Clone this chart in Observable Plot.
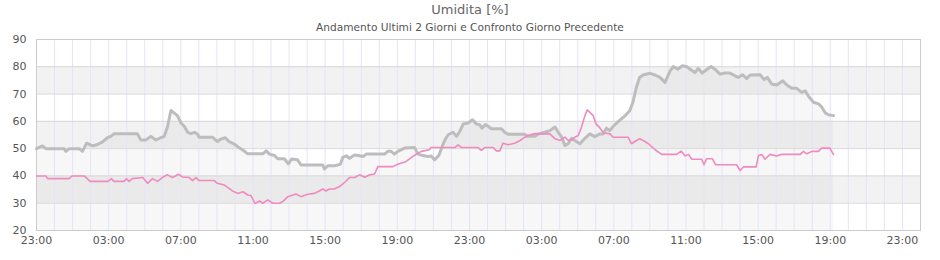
<!DOCTYPE html>
<html>
<head>
<meta charset="utf-8">
<script src="https://cdn.jsdelivr.net/npm/d3@7"></script>
<script src="https://cdn.jsdelivr.net/npm/@observablehq/plot@0.6"></script>
<style>
  body { margin: 0; background: #fff; font-family: "DejaVu Sans", sans-serif; }
  #wrap { width: 940px; height: 260px; position: relative; }
  #title { position: absolute; top: 2px; left: 0; width: 940px; text-align: center; font-size: 13px; color: #666; line-height: 16px; }
  #subtitle { position: absolute; top: 20px; left: 0; width: 940px; text-align: center; font-size: 10.6px; color: #555; line-height: 14px; }
  #chart { position: absolute; top: 34px; left: 0; }
</style>
</head>
<body>
<div id="wrap">
  <div id="title">Umidita [%]</div>
  <div id="subtitle">Andamento Ultimi 2 Giorni e Confronto Giorno Precedente</div>
  <div id="chart"></div>
</div>
<script>
// Hours elapsed since the first 23:00 on the axis
const grayHours = [0,0.33,0.52,1.53,1.63,1.81,2.37,2.55,2.78,3.1,3.38,3.66,3.93,4.12,4.3,5.59,5.79,6.07,6.34,6.62,6.9,7.08,7.26,7.45,7.64,7.82,8.01,8.19,8.38,8.56,8.75,8.93,9.01,9.75,10.03,10.22,10.46,10.68,10.96,11.26,11.42,11.71,12.54,12.73,12.91,13.19,13.37,13.74,13.96,14.14,14.47,14.66,15.87,15.96,16.14,16.5,16.84,16.98,17.17,17.35,17.63,17.91,18.1,18.28,19.29,19.47,19.66,19.84,20.03,20.4,20.96,21.14,21.42,21.7,21.88,22.06,22.3,22.5,22.66,22.82,23.09,23.28,23.46,23.65,23.93,24.17,24.38,24.56,24.69,24.88,25.03,25.21,25.77,25.95,26.14,27.05,27.24,27.61,27.8,28.17,28.46,28.74,28.92,29.11,29.29,29.47,29.66,29.84,30.12,30.4,30.67,30.95,31.23,31.41,31.59,31.78,31.96,32.24,32.6,32.88,33.06,33.25,33.43,33.62,34.01,34.29,34.56,34.84,35.12,35.3,35.54,35.8,36.05,36.23,36.5,36.68,36.9,37.14,37.39,37.61,37.89,38.16,38.44,38.72,38.9,39.13,39.37,39.56,40.11,40.33,40.51,40.75,41.03,41.37,41.59,41.87,42.14,42.42,42.61,42.79,43.07,43.35,43.53,43.72,43.9,44.18];
const grayValues = [50,51,50,50,49,50,50,49,52,51,51.5,52.5,54,54.5,55.5,55.5,53.2,53.2,54.5,53.2,54,54.5,58,64,63,62,59.4,58.2,56,55.5,56,55.3,54.2,54.2,52.6,53.5,54,52.6,51.7,50.2,49.6,48.1,48.1,49.2,48,47.5,46.3,46.3,44.4,46.2,45.9,44,44,42.6,43.7,43.7,44.3,46.8,47.4,46.5,47.7,47.4,47.1,48,48,49,49,48,49,50.2,50.4,48,47.5,47.1,47.3,45.9,47.5,51,53.5,55.1,56,54.5,56.3,59,59.4,60.6,59,58.8,57.5,58.8,58.2,57.3,57.3,56,55.3,55.3,54.5,54.5,55.3,56,56.6,57.9,56,54.2,51.2,51.8,53.8,53,51.8,53.8,55.4,54.4,55.4,55.4,57.5,56.6,58.1,59.9,61.9,63.9,67,72.5,76.1,77,77.6,77,76.1,74.3,78.5,80.1,79.1,80.4,80,79.1,77.9,79.4,77.7,78.9,80.1,79.1,77.3,77.7,77.7,76.7,76.1,77.1,75.7,77,77.1,75.3,76.1,73.7,73.3,74.9,73.3,72.1,72.1,70.6,71.2,69.2,67,66.4,65.2,63.1,62.4,62.1];

const pinkHours = [0,0.52,0.61,1.8,1.99,2.64,2.97,3.96,4.15,4.29,4.85,4.98,5.13,5.31,5.89,6.16,6.43,6.71,6.99,7.26,7.54,7.88,8.1,8.47,8.65,8.84,9.01,9.85,10.03,10.4,10.86,11.16,11.44,11.71,11.89,12.11,12.36,12.54,12.82,13.1,13.47,13.65,13.93,14.38,14.66,15.03,15.4,15.68,15.87,16.05,16.24,16.5,16.78,17.08,17.35,17.63,17.91,18.19,18.47,18.74,18.92,19.75,20.03,20.49,20.77,21.05,21.33,21.78,21.87,23.19,23.37,23.56,24.47,24.66,24.84,25.31,25.49,25.68,25.86,26.14,26.51,26.78,27.05,27.24,27.61,28.46,28.74,29.02,29.29,29.48,29.66,29.84,30.03,30.21,30.4,30.53,30.67,30.86,31.01,31.19,31.42,31.79,31.96,32.79,32.98,33.26,33.44,33.72,33.92,34.29,34.65,35.49,35.73,35.95,36.14,36.32,36.87,37.0,37.14,37.46,37.64,38.81,39.0,39.18,39.89,40.02,40.21,40.38,40.66,41.03,41.31,42.33,42.51,42.7,42.98,43.34,43.52,43.98,44.18];
const pinkValues = [40,40,39,39,40,40,38,38,39,38,38,39,38,39,39.4,37.3,39,38,39.5,40.4,39.4,40.6,39.6,39.4,38.3,39.4,38.3,38.3,37.3,36.7,34.5,33.6,34.2,33,32.8,29.9,30.8,30,31.2,30,30,30.6,32.4,33.4,32.4,33.3,33.6,34.5,35.2,34.5,35.2,35.2,36,37.6,39.4,39.4,40.4,39.5,40.4,40.7,43.4,43.4,44.3,45.3,46.7,48,49,49.6,50.4,50.4,51.4,50.4,50.4,49.4,50.4,50.4,49.2,49.2,52,51.4,52,52.9,54.1,54.8,55.5,55.4,53.6,53,54.2,53,53.2,54.2,54.8,57.9,62.1,64.2,63.3,62.1,59.1,57.9,55.8,55.4,54.2,54.2,51.8,53,53.6,52.6,51.8,49.6,47.9,47.9,49.1,47.3,47.9,46.1,46.1,44.1,46.3,46.3,44.1,44.1,42,43.3,43.3,47.5,47.8,46.1,47.9,47.3,47.9,47.9,49,48.1,49,49,50.2,50.2,47.8];

const yTicks = [20,30,40,50,60,70,80,90];
const bandRanges = [[30,40],[50,60],[70,80]];
const xTickHours = [0,4,8,12,16,20,24,28,32,36,40,44,48];
const axisEndHour = 49;

const start = new Date(2024, 5, 10, 23, 0, 0);
const at = h => new Date(start.getTime() + h * 3600 * 1000);

const gray = grayHours.map((h, i) => ({t: at(h), v: grayValues[i]}));
const pink = pinkHours.map((h, i) => ({t: at(h), v: pinkValues[i]}));
const bands = bandRanges.map(([a, b]) => ({y1: a, y2: b}));
const hourGrid = d3.range(0, axisEndHour + 1).map(at);
const fmt = d3.timeFormat("%H:%M");

const chart = Plot.plot({
  width: 940,
  height: 226,
  marginLeft: 36,
  marginRight: 20,
  marginTop: 5,
  marginBottom: 30,
  style: {fontFamily: "DejaVu Sans, sans-serif", fontSize: "11px", color: "#555", background: "transparent"},
  x: {type: "time", domain: [at(0), at(axisEndHour)], label: null},
  y: {domain: [20, 90], label: null},
  marks: [
    Plot.rect(bands, {x1: at(0), x2: at(axisEndHour), y1: "y1", y2: "y2", fill: "#f2f2f2"}),
    Plot.areaY(gray, {x: "t", y1: 20, y2: "v", fill: "#000", fillOpacity: 0.03}),
    Plot.gridX(hourGrid, {stroke: "#e6e4f4", strokeOpacity: 1}),
    Plot.gridY(yTicks.slice(1, -1), {stroke: "#d9d9d9", strokeOpacity: 1}),
    Plot.frame({stroke: "#cccccc"}),
    Plot.line(gray, {x: "t", y: "v", stroke: "#bdbdbd", strokeWidth: 3}),
    Plot.line(pink, {x: "t", y: "v", stroke: "#f08ac0", strokeWidth: 1.6}),
    Plot.axisX(xTickHours.map(at), {tickSize: 0, tickPadding: 6, tickFormat: fmt, fill: "#555", fontSize: 11, label: null}),
    Plot.axisY(yTicks, {tickSize: 0, tickPadding: 10, fill: "#555", fontSize: 11, label: null})
  ]
});
document.getElementById("chart").appendChild(chart);
</script>
</body>
</html>
